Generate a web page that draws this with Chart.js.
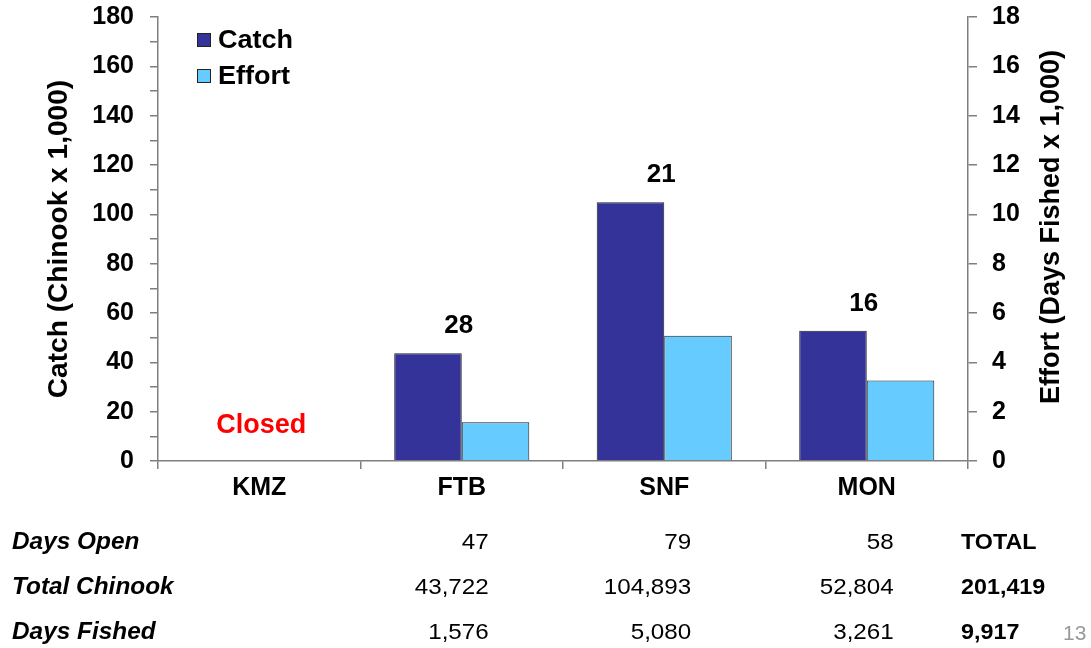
<!DOCTYPE html>
<html>
<head>
<meta charset="utf-8">
<title>Catch and Effort</title>
<script src="https://cdn.jsdelivr.net/npm/chart.js@4.4.1/dist/chart.umd.min.js"></script>
<style>
    body { margin: 0; background: #fff; }
    #wrap { width: 1091px; height: 648px; }
</style>
</head>
<body>
<div id="wrap"><canvas id="catchChart" width="1091" height="648"></canvas></div>
<script>
// ===============================
// DATA
// ===============================
const categories = ["KMZ", "FTB", "SNF", "MON"];
const catchValues = [null, 43.722, 104.893, 52.804];     // Chinook x 1,000
const effortValues = [null, 1.576, 5.080, 3.261];        // days fished x 1,000
const cpueLabels = [null, "28", "21", "16"];
const closedLabel = ["Closed", null, null, null];

const rowLabels = ["Days Open", "Total Chinook", "Days Fished"];
const daysOpen = [null, "47", "79", "58"];
const totalChinook = [null, "43,722", "104,893", "52,804"];
const daysFished = [null, "1,576", "5,080", "3,261"];
const totalColumn = ["TOTAL", "201,419", "9,917"];
const pageNumber = "13";

const FONT = "'Liberation Sans', Arial, sans-serif";
Chart.defaults.font.family = FONT;


// ===============================
// TEXT HELPER (slightly stretched like the slide)
// ===============================
function drawText(ctx, text, x, y, font, align, color, stretch) {
    ctx.save();
    ctx.font = font;
    ctx.fillStyle = color;
    ctx.textBaseline = "middle";
    ctx.textAlign = align;
    ctx.translate(x, y);
    ctx.scale(stretch || 1, 1);
    ctx.fillText(text, 0, 0);
    ctx.restore();
}


// ===============================
// EXTRA DRAWING: legend, labels, titles, table
// ===============================
const extrasPlugin = {
    id: "extras",
    afterDraw(chart) {
        const ctx = chart.ctx;
        const xs = chart.scales.x;
        const ys = chart.scales.y;

        // legend
        chart.data.datasets.forEach((ds, i) => {
            const top = 33 + i * 36;
            ctx.fillStyle = ds.backgroundColor;
            ctx.fillRect(197, top, 14, 14);
            ctx.strokeStyle = "#222";
            ctx.lineWidth = 1;
            ctx.strokeRect(197.5, top + 0.5, 13, 13);
            drawText(ctx, ds.label, 218, top + 8, "bold 26px " + FONT, "left", "#000", 1.04);
        });

        // CPUE labels above catch bars
        cpueLabels.forEach((lab, i) => {
            if (!lab) return;
            const x = xs.getPixelForValue(i);
            const y = ys.getPixelForValue(catchValues[i]) - 27;
            drawText(ctx, lab, x - 3, y, "bold 26px " + FONT, "center", "#000");
        });

        // closed fishery
        closedLabel.forEach((lab, i) => {
            if (!lab) return;
            drawText(ctx, lab, xs.getPixelForValue(i) + 2, ys.getPixelForValue(14.5),
                "bold 27px " + FONT, "center", "#FF0000");
        });

        // axis titles (both read bottom to top)
        ctx.save();
        ctx.translate(60, 239);
        ctx.rotate(-Math.PI / 2);
        drawText(ctx, "Catch (Chinook x 1,000)", 0, 0, "bold 27px " + FONT, "center", "#000", 1.04);
        ctx.restore();

        ctx.save();
        ctx.translate(1052, 227);
        ctx.rotate(-Math.PI / 2);
        drawText(ctx, "Effort (Days Fished x 1,000)", 0, 0, "bold 27px " + FONT, "center", "#000");
        ctx.restore();

        // table below the chart
        const rows = [daysOpen, totalChinook, daysFished];
        const rowY = [543, 588, 633];
        rows.forEach((row, r) => {
            drawText(ctx, rowLabels[r], 12, rowY[r], "italic bold 23px " + FONT, "left", "#000", 1.06);
            row.forEach((val, i) => {
                if (!val) return;
                drawText(ctx, val, xs.getPixelForValue(i) + 27, rowY[r], "22px " + FONT, "right", "#000", 1.1);
            });
            drawText(ctx, totalColumn[r], 961, rowY[r], "bold 22px " + FONT, "left", "#000", 1.06);
        });

        drawText(ctx, pageNumber, 1063, 634, "20px " + FONT, "left", "#999999", 1.05);
    }
};


// ===============================
// CHART
// ===============================
const axisColor = "#7f7f7f";
const tickFont = { size: 25, weight: "bold" };

// keep the plot area where the slide has it
function fixWidth(w) {
    return s => {
        s.width = w;
        s.paddingTop = 0;
        s.paddingBottom = 0;
    };
}

new Chart(document.getElementById("catchChart").getContext("2d"), {
    type: "bar",
    data: {
        labels: categories,
        datasets: [
            {
                label: "Catch",
                data: catchValues,
                yAxisID: "y",
                backgroundColor: "#333399",
                borderColor: "#222222",
                borderWidth: 1,
                categoryPercentage: 0.667,
                barPercentage: 1.0
            },
            {
                label: "Effort",
                data: effortValues,
                yAxisID: "y1",
                backgroundColor: "#66CCFF",
                borderColor: "#222222",
                borderWidth: 1,
                categoryPercentage: 0.667,
                barPercentage: 1.0
            }
        ]
    },
    options: {
        responsive: false,
        animation: false,
        layout: { padding: { top: 17, left: 0, right: 0, bottom: 0 } },
        plugins: {
            legend: { display: false },
            tooltip: { enabled: false }
        },
        scales: {
            x: {
                grid: {
                    drawOnChartArea: false,
                    offset: true,
                    tickLength: 8,
                    color: axisColor,
                    lineWidth: 1.5
                },
                border: { color: axisColor, width: 1.5 },
                ticks: { font: tickFont, color: "#000", padding: 4 },
                afterFit: s => {
                    s.height = 187;
                    s.paddingLeft = 0;
                    s.paddingRight = 0;
                }
            },
            y: {
                position: "left",
                min: 0,
                max: 180,
                ticks: {
                    stepSize: 10,
                    autoSkip: false,
                    font: tickFont,
                    color: "#000",
                    padding: 16,
                    callback: v => (v % 20 === 0 ? v : "")
                },
                grid: {
                    drawOnChartArea: false,
                    tickLength: 8,
                    color: axisColor,
                    lineWidth: 1.5
                },
                border: { color: axisColor, width: 1.5 },
                afterFit: fixWidth(158)
            },
            y1: {
                position: "right",
                min: 0,
                max: 18,
                ticks: {
                    stepSize: 2,
                    autoSkip: false,
                    font: tickFont,
                    color: "#000",
                    padding: 15
                },
                grid: {
                    drawOnChartArea: false,
                    tickLength: 9,
                    color: axisColor,
                    lineWidth: 1.5
                },
                border: { color: axisColor, width: 1.5 },
                afterFit: fixWidth(123)
            }
        }
    },
    plugins: [extrasPlugin]
});
</script>
</body>
</html>
